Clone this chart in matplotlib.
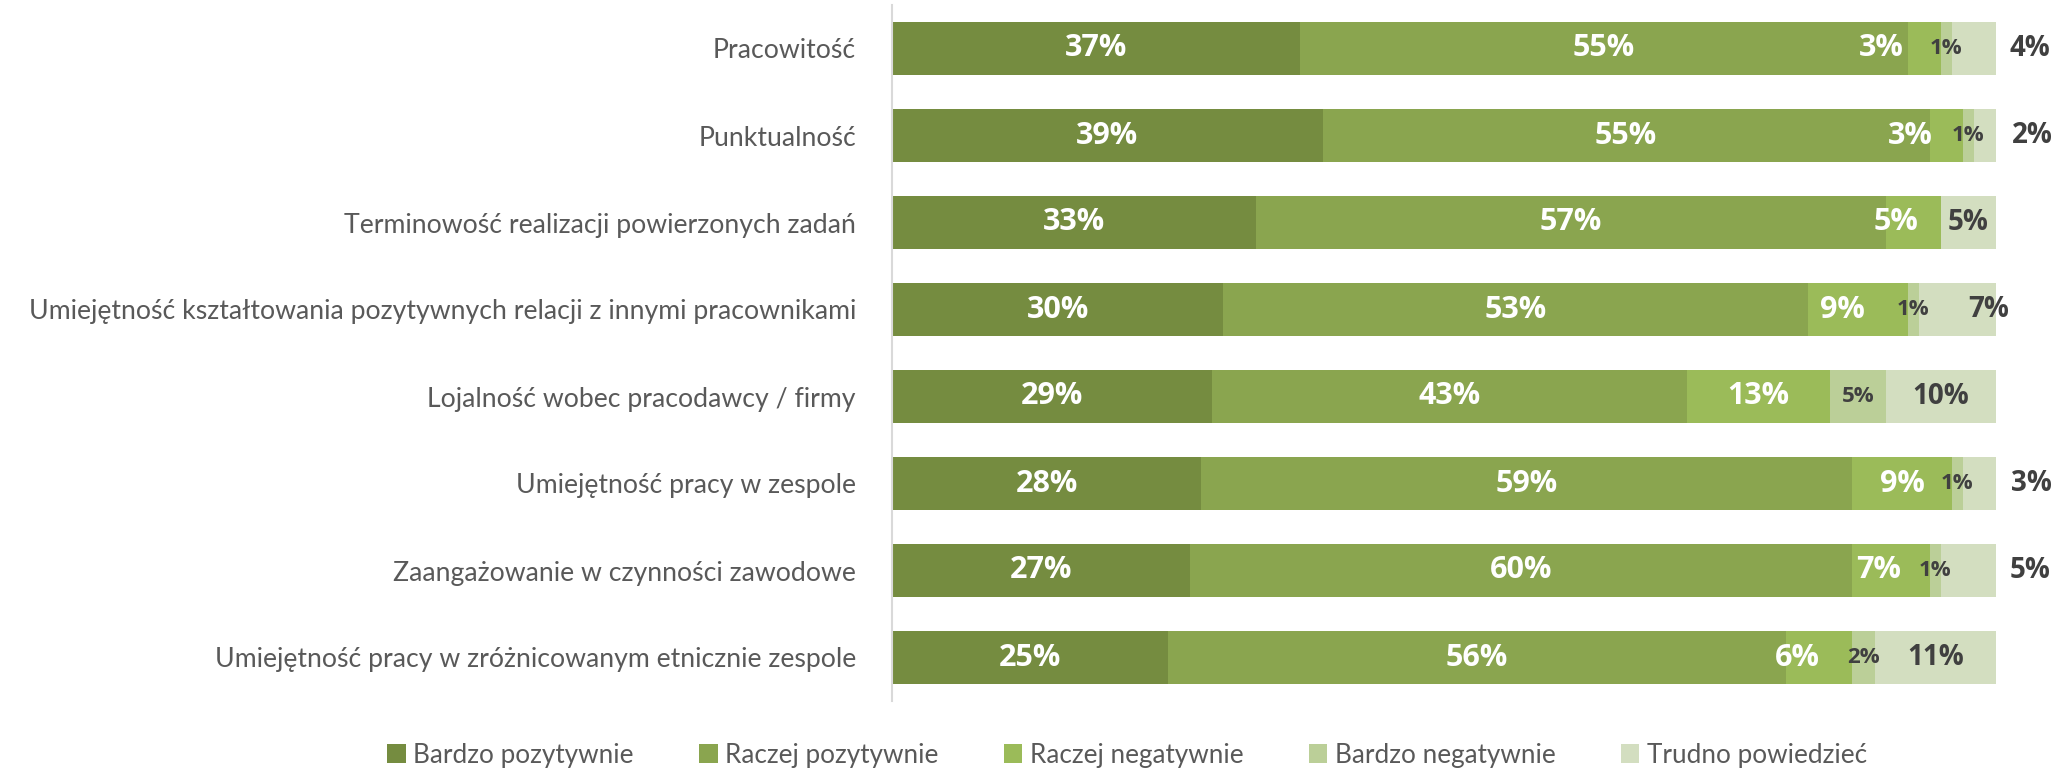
import numpy as np
import matplotlib.pyplot as plt

# dane z wykresu (w %)
categories = [
    'Pracowitość',
    'Punktualność',
    'Terminowość realizacji powierzonych zadań',
    'Umiejętność kształtowania pozytywnych relacji z innymi pracownikami',
    'Lojalność wobec pracodawcy / firmy',
    'Umiejętność pracy w zespole',
    'Zaangażowanie w czynności zawodowe',
    'Umiejętność pracy w zróżnicowanym etnicznie zespole',
]
series_names = ['Bardzo pozytywnie', 'Raczej pozytywnie', 'Raczej negatywnie',
                'Bardzo negatywnie', 'Trudno powiedzieć']
bardzo_poz = [37, 39, 33, 30, 29, 28, 27, 25]
raczej_poz = [55, 55, 57, 53, 43, 59, 60, 56]
raczej_neg = [3, 3, 5, 9, 13, 9, 7, 6]
bardzo_neg = [1, 1, 0, 1, 5, 1, 1, 2]
trudno = [4, 2, 5, 7, 10, 3, 5, 11]

colors = ['#758C40', '#8AA54F', '#9BBB59', '#BBCF98', '#D3DEC0']
label_colors = ['white', 'white', 'white', '#404040', '#404040']

# przesuniecia etykiet (jak w oryginale, przesuniete recznie)
rn_shift = [-3.85, -3.3, -1.6, -1.45, 0, 0, -1.1, -2.0]
trudno_label_x = [103.1, 103.3, None, 99.3, None, 103.2, 103.1, None]

values = [bardzo_poz, raczej_poz, raczej_neg, bardzo_neg, trudno]

fig = plt.figure(figsize=(20.61, 7.69), dpi=100)
ax = fig.add_axes([892 / 2061, 1 - 701 / 769, 1104 / 2061, 696 / 769])

y = np.arange(len(categories))
left = np.zeros(len(categories))
for s, vals in enumerate(values):
    vals = np.array(vals, dtype=float)
    ax.barh(y, vals, left=left, height=0.61, color=colors[s],
            linewidth=0, label=series_names[s])
    for i, v in enumerate(vals):
        if v == 0:
            continue
        xc = left[i] + v / 2
        size = 22
        if s == 2:
            xc += rn_shift[i]
        if s == 3:
            size = 16
        if s == 4:
            size = 20
            if trudno_label_x[i] is not None:
                xc = trudno_label_x[i]
        ax.text(xc, y[i], f'{int(v)}%', ha='center', va='center',
                color=label_colors[s], fontsize=size, fontweight='bold',
                family='Open Sans')
    left += vals

ax.set_xlim(0, 100)
ax.set_ylim(len(categories) - 0.5, -0.5)
ax.set_yticks(y)
ax.set_yticklabels(categories, fontsize=19.2, color='#595959', family='Lato')
ax.tick_params(axis='y', length=0, pad=26)
ax.set_xticks([])
for sp in ['top', 'right', 'bottom']:
    ax.spines[sp].set_visible(False)
ax.spines['left'].set_color('#D9D9D9')
ax.spines['left'].set_linewidth(1.5)

leg = fig.legend(loc='center', bbox_to_anchor=(0.547, 0.018), ncol=5,
                 frameon=False, handlelength=0.7, handleheight=0.7,
                 handletextpad=0.3, columnspacing=2.5,
                 prop={'family': 'Lato', 'size': 18.8})
for t in leg.get_texts():
    t.set_color('#595959')

fig.savefig('out.png', dpi=100)
